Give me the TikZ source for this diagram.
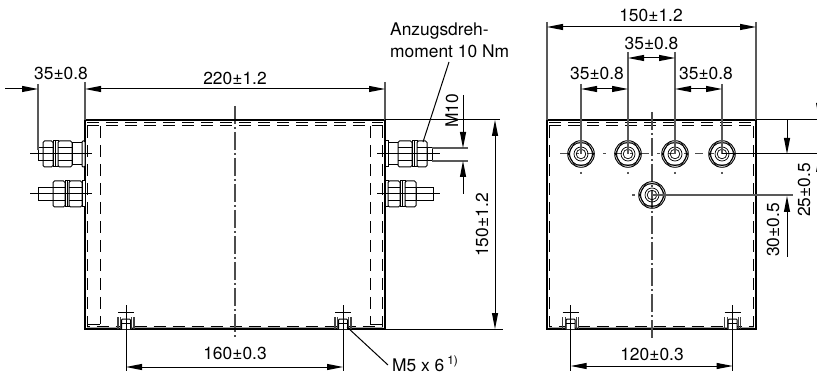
\documentclass[tikz,border=0pt]{standalone}
\usepackage{fontspec}
\setmainfont{TeX Gyre Heros}
\usetikzlibrary{arrows.meta}
\tikzset{
 lbl/.style={inner sep=0pt,font=\fontsize{17.4}{21.5}\selectfont},
 outline/.style={line width=1.5pt,black},
 dim/.style={line width=1pt,black,{Triangle[length=16pt,width=6pt]}-{Triangle[length=16pt,width=6pt]}},
 tip/.style={line width=1pt,black,-{Triangle[length=16pt,width=6pt]}},
 ext/.style={line width=1.1pt,black!65},
 thin line/.style={line width=1pt,black},
 hidden/.style={line width=1pt,black,dash pattern=on 12pt off 7pt},
 centre/.style={line width=1.2pt,black!70,dash pattern=on 18pt off 3pt on 2pt off 3pt},
 part/.style={line width=1pt,black},
}
% horizontal nut: x1 x2 yc halfheight
\newcommand\hnut[4]{\draw[part,rounded corners=1.5pt,fill=white] (#1,#3-#4) rectangle (#2,#3+#4);
 \draw[part] (#1,#3-#4*.5) -- (#2,#3-#4*.5) (#1,#3+#4*.5) -- (#2,#3+#4*.5);}
\newcommand\hblock[4]{\draw[part,fill=white] (#1,#3-#4) rectangle (#2,#3+#4);}
% nut seen from the end
\newcommand\facenut[2]{\draw[line width=.9pt,black] (#1,#2) circle (13.3) (#1,#2) circle (11.5);
 \draw[line width=.7pt,black] (#1,#2)++(-12.8,0) -- ++(6.4,-11.1) -- ++(12.8,0) -- ++(6.4,11.1) -- ++(-6.4,11.1) -- ++(-12.8,0) -- cycle;
 \draw[line width=.7pt,black] (#1,#2) circle (7) (#1,#2) circle (4.8);}
% fixing stud at the foot
\newcommand\footstud[1]{\draw[part,line width=1.1pt,black!75] (#1-8,329) -- (#1-8,317) (#1-5.5,329) -- (#1-5.5,317) (#1+5.5,329) -- (#1+5.5,317) (#1+8,329) -- (#1+8,317);
 \draw[part,rounded corners=1pt,fill=white] (#1-4.5,329) -- (#1-4.5,319) -- (#1+4.5,319) -- (#1+4.5,329);
 \draw[part] (#1-4.5,323) -- (#1+4.5,323);
 \draw[part] (#1-8,312) -- (#1+8,312) (#1,305) -- (#1,329);}
\begin{document}
\begin{tikzpicture}[x=1pt,y=-1pt]
\useasboundingbox (0,0) rectangle (817,374);
% ---- coordinates
\coordinate (LTL) at (85,120); \coordinate (LTR) at (385,120);
\coordinate (LBL) at (85,329); \coordinate (LBR) at (385,329);
\coordinate (RTL) at (547,120); \coordinate (RTR) at (756,120);
\coordinate (RBL) at (547,329); \coordinate (RBR) at (756,329);
% ---- left view: hidden lines
\draw[line width=2pt,black!35] (87,328) -- (383,328);
\draw[hidden] (87,123) -- (383,123) (87,125.5) -- (383,125.5);
\draw[hidden] (87.5,126) -- (87.5,326) -- (383,326);
\draw[hidden] (100,126) -- (100,324);
\draw[hidden] (382.5,126) -- (382.5,326);
\draw[hidden] (370,126) -- (370,324);
\draw[part] (87,324) -- (100,324) (370,324) -- (382,324);
\draw[centre] (235,106) -- (235,338);
% ---- left view: outline
\draw[outline] (LBL) -- (LTL) -- (LTR) -- (LBR) -- cycle;
% ---- left studs, upper
\hblock{38}{46}{154}{6.5}
\hnut{43}{53}{154}{13}
\hblock{53}{55.5}{154}{13}\hblock{55.5}{58}{154}{13}
\hnut{58}{72}{154}{13}
\hblock{72}{82}{154}{11}
\draw[part,rounded corners=1pt,fill=white] (82,141) rectangle (85,167);
\draw[part] (30,154) -- (92,154);
% ---- left studs, lower
\hblock{38}{53}{194}{6.5}
\hnut{53}{65}{194}{13}
\hblock{65}{67}{194}{13}\hblock{67}{69}{194}{13}
\hnut{69}{82}{194}{13}
\draw[part,fill=white] (82,181) rectangle (85,207);
\draw[part] (30,194) -- (92,194);
% ---- right studs, upper
\hblock{427}{432}{154}{6.5}
\hblock{388}{398}{154}{11}
\draw[part,fill=white] (385,141) rectangle (388,167);
\hnut{398}{412}{154}{13}
\hblock{412}{414.5}{154}{13}\hblock{414.5}{417}{154}{13}
\hnut{417}{427}{154}{13}
\draw[part] (377,154) -- (440,154);
% ---- right studs, lower
\hblock{416}{433}{194}{6.5}
\draw[part,fill=white] (385,181) rectangle (388,207);
\hnut{388}{400}{194}{13}
\hblock{400}{402.5}{194}{13}\hblock{402.5}{405}{194}{13}
\hnut{405}{416}{194}{13}
\draw[part] (377,194) -- (440,194);
% ---- left feet
\footstud{126}\footstud{343}
% ---- right view: hidden lines
\draw[line width=2pt,black!35] (549,328) -- (754,328);
\draw[hidden] (549,123) -- (754,123) (549,125.5) -- (754,125.5);
\draw[hidden] (549.5,126) -- (549.5,326) -- (754,326);
\draw[hidden] (753.5,126) -- (753.5,326);
\draw[outline] (RBL) -- (RTL) -- (RTR) -- (RBR) -- cycle;
\draw[centre] (652,112) -- (652,340);
\draw[centre,line width=1pt,dash pattern=on 8pt off 8pt on 3pt off 8pt] (560,154) -- (722,154);
\foreach \sx in {581,628,675,722} {\draw[ext] (\sx,172) -- (\sx,174); \facenut{\sx}{154}}
\facenut{652}{195}
\draw[ext] (632,195) -- (635,195);
\footstud{570.7}\footstud{732.7}
% ---- dimensions, left view
\coordinate (a1) at (38,84); \coordinate (a2) at (38,150);
\coordinate (b1) at (85,82); \coordinate (c1) at (385,82);
\draw[ext] (a1) -- (a2) (b1) -- (LTL) (c1) -- (LTR);
\coordinate (d0) at (5,89); \coordinate (d1) at (38,89);
\coordinate (d2) at (85,89); \coordinate (d3) at (385,89);
\draw[tip] (d0) -- (d1);
\draw[dim] (d2) -- (d3);
\node[lbl] (n35a) at (61,73) {35±0.8};
\node[lbl] (n220) at (235,78) {220±1.2};
\coordinate (e1) at (126,367); \coordinate (e2) at (343,367);
\draw[thin line] (126,329) -- (126,371) (343,329) -- (343,371);
\draw[dim] (e1) -- (e2);
\node[lbl] (n160) at (235,353) {160±0.3};
\coordinate (g1) at (570.7,366); \coordinate (g2) at (732.7,366);
\draw[thin line] (570.7,329) -- (570.7,371) (732.7,329) -- (732.7,371);
\draw[dim] (g1) -- (g2);
\node[lbl] (n120) at (652,354) {120±0.3};
\coordinate (f1) at (503,120); \coordinate (f2) at (503,329);
\draw[thin line] (LTR) -- (500,120) (LBR) -- (f2);
\draw[dim] (495,120) -- (495,329);
\node[lbl,rotate=90] (n150a) at (482,225) {150±1.2};
\coordinate (m1) at (432,148); \coordinate (m2) at (468,148);
\coordinate (m3) at (432,161); \coordinate (m4) at (468,161);
\draw[ext] (m1) -- (m2) (m3) -- (m4);
\coordinate (m5) at (463,95); \coordinate (m6) at (463,148);
\coordinate (m7) at (463,194); \coordinate (m8) at (463,161);
\draw[tip] (m5) -- (m6);
\draw[tip] (m7) -- (m8);
\node[lbl,rotate=90] (nm10) at (452,111) {M10};
\node[lbl,align=left,anchor=north west] (nanz) at (390,23) {Anzugsdreh-\\moment 10 Nm};
\coordinate (an1) at (449,62); \coordinate (an2) at (423,142);
\draw[thin line] (an1) -- (an2);
\node[lbl,anchor=west] (nm5) at (392,364) {M5 x 6\,\raisebox{.42em}{\fontsize{12}{12}\selectfont 1)}};
\coordinate (l1) at (347,327);\coordinate (l2) at (388,365);
\draw[thin line] (l1) -- (l2);
% ---- dimensions, right view
\draw[ext] (547,22) -- (RTL) (756,22) -- (RTR);
\draw[dim] (547,27) -- (756,27);
\node[lbl] (n150b) at (651,15) {150±1.2};
\draw[ext] (628,52) -- (628,154) (675,52) -- (675,154);
\draw[ext] (581,84) -- (581,154) (722,84) -- (722,154);
\draw[dim] (628,58) -- (675,58);
\node[lbl] (n35b) at (651.5,43) {35±0.8};
\draw[dim] (581,89) -- (628,89);
\node[lbl] (n35c) at (597,73) {35±0.8};
\draw[dim] (675,89) -- (722,89);
\node[lbl] (n35d) at (706,73) {35±0.8};
\draw[thin line] (RTR) -- (817,120);
\draw[thin line] (722,154) -- (817,154);
\draw[ext] (652,195) -- (793,195);
\draw[tip] (787,120) -- (787,154);
\draw[tip] (787,257) -- (787,196);
\node[lbl,rotate=90] (n30) at (773,230) {30±0.5};
\node[lbl,rotate=90] (n25) at (804,190) {25±0.5};
\fill[black] (816,103) -- (822,103) -- (819,119) -- cycle;
\fill[black] (816,172) -- (822,172) -- (819,156) -- cycle;
\end{tikzpicture}
\end{document}
